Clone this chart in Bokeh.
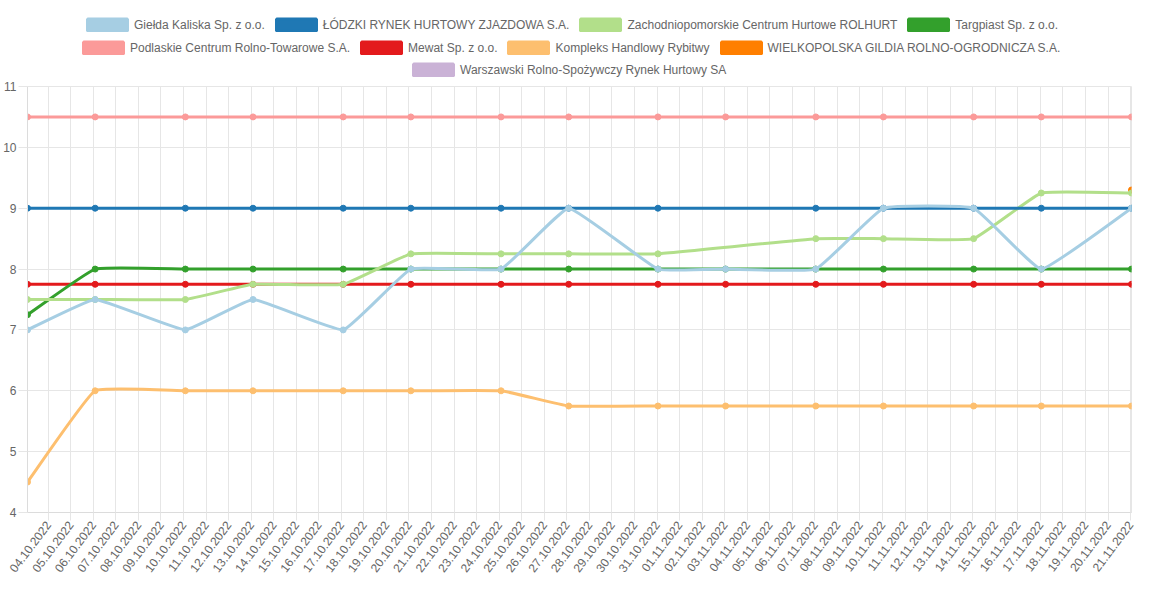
import math
import pandas as pd
from bokeh.plotting import figure
from bokeh.layouts import column
from bokeh.models import (Range1d, DaysTicker, DatetimeTickFormatter, FixedTicker,
                          Legend, LegendItem, ColumnDataSource)
from bokeh.embed import file_html
from bokeh.resources import INLINE

# ---------------- data ----------------
dates = ["2022-10-03", "2022-10-06", "2022-10-10", "2022-10-13", "2022-10-17",
         "2022-10-20", "2022-10-24", "2022-10-27", "2022-10-31", "2022-11-03",
         "2022-11-07", "2022-11-10", "2022-11-14", "2022-11-17", "2022-11-21"]

names = ["Giełda Kaliska Sp. z o.o.",
         "ŁÓDZKI RYNEK HURTOWY ZJAZDOWA S.A.",
         "Zachodniopomorskie Centrum Hurtowe ROLHURT",
         "Targpiast Sp. z o.o.",
         "Podlaskie Centrum Rolno-Towarowe S.A.",
         "Mewat Sp. z o.o.",
         "Kompleks Handlowy Rybitwy",
         "WIELKOPOLSKA GILDIA ROLNO-OGRODNICZA S.A.",
         "Warszawski Rolno-Spożywczy Rynek Hurtowy SA"]

colors = ["#a6cee3", "#1f78b4", "#b2df8a", "#33a02c", "#fb9a99",
          "#e31a1c", "#fdbf6f", "#ff7f00", "#cab2d6"]

kaliska = [7, 7.5, 7, 7.5, 7, 8, 8, 9, 8, 8, 8, 9, 9, 8, 9]
lodzki = [9, 9, 9, 9, 9, 9, 9, 9, 9, None, 9, 9, 9, 9, 9]
rolhurt = [7.5, 7.5, 7.5, 7.75, 7.75, 8.25, 8.25, 8.25, 8.25, None, 8.5, 8.5, 8.5, 9.25, 9.25]
targpiast = [7.25, 8, 8, 8, 8, 8, 8, 8, 8, 8, 8, 8, 8, 8, 8]
podlaskie = [10.5, 10.5, 10.5, 10.5, 10.5, 10.5, 10.5, 10.5, 10.5, 10.5, 10.5, 10.5, 10.5, 10.5, 10.5]
mewat = [7.75, 7.75, 7.75, 7.75, 7.75, 7.75, 7.75, 7.75, 7.75, 7.75, 7.75, 7.75, 7.75, 7.75, 7.75]
rybitwy = [4.5, 6, 6, 6, 6, 6, 6, 5.75, 5.75, 5.75, 5.75, 5.75, 5.75, 5.75, 5.75]
wielkopolska = [None, None, None, None, None, None, None, None, None, None, None, None, None, None, 9.3]
warszawski = [None] * 15

series = [kaliska, lodzki, rolhurt, targpiast, podlaskie, mewat, rybitwy, wielkopolska, warszawski]

y_min, y_max = 4, 11
y_ticks = [4, 5, 6, 7, 8, 9, 10, 11]

legend_rows = [[0, 1, 2, 3], [4, 5, 6, 7], [8]]

# ---------------- layout / style ----------------
FIG_W = 1145
LEG_H = 78
MAIN_H = 512
BORDER_L, BORDER_R = 27, 14
FRAME_W, FRAME_H = 1104, 426
TENSION = 0.1
FONT = "Liberation Sans"
TXT = "#666666"
GRID = "#e6e6e6"
# legend row positions (screen px, bottom-left of each legend row relative to the strip's frame)
LEGEND_POS = [(51, 42), (47, 19), (377, -3)]

# timestamps: UTC midnight shown in Warsaw local time
t_utc = pd.to_datetime(dates).tz_localize("UTC")
try:
    t_loc = t_utc.tz_convert("Europe/Warsaw").tz_localize(None)
except Exception:
    t_loc = t_utc.tz_localize(None) + pd.Timedelta(hours=2)
x_ms = (t_loc.asi8 / 1e6).astype(float)
x_start, x_end = x_ms[0], x_ms[-1]

p = figure(width=FIG_W, height=MAIN_H,
           x_axis_type="datetime",
           x_range=Range1d(x_start, x_end), y_range=Range1d(y_min, y_max),
           output_backend="svg", toolbar_location=None,
           min_border_left=BORDER_L, min_border_right=BORDER_R,
           min_border_top=8, min_border_bottom=78,
           background_fill_color="white", border_fill_color="white")
p.outline_line_color = GRID

sx = FRAME_W / (x_end - x_start)
sy = FRAME_H / (y_max - y_min)


def curve(xs, ys, t):
    """Chart.js style bezier control points (computed in pixel space)."""
    pts = [((x - x_start) * sx, y * sy) for x, y in zip(xs, ys)]
    n = len(pts)
    pc, nc = [], []
    for i in range(n):
        a = pts[max(i - 1, 0)]
        m = pts[i]
        b = pts[min(i + 1, n - 1)]
        d01 = math.hypot(m[0] - a[0], m[1] - a[1])
        d12 = math.hypot(b[0] - m[0], b[1] - m[1])
        s = d01 + d12
        s01 = d01 / s if s else 0.0
        s12 = d12 / s if s else 0.0
        fa, fb = t * s01, t * s12
        pc.append((m[0] - fa * (b[0] - a[0]), m[1] - fa * (b[1] - a[1])))
        nc.append((m[0] + fb * (b[0] - a[0]), m[1] + fb * (b[1] - a[1])))

    def back(q):
        return q[0] / sx + x_start, q[1] / sy

    d = dict(x0=[], y0=[], x1=[], y1=[], cx0=[], cy0=[], cx1=[], cy1=[])
    for i in range(n - 1):
        p0, c0, c1, p1 = back(pts[i]), back(nc[i]), back(pc[i + 1]), back(pts[i + 1])
        d["x0"].append(p0[0]); d["y0"].append(p0[1])
        d["cx0"].append(c0[0]); d["cy0"].append(c0[1])
        d["cx1"].append(c1[0]); d["cy1"].append(c1[1])
        d["x1"].append(p1[0]); d["y1"].append(p1[1])
    return d


# Chart.js draws the last dataset first
for idx in reversed(range(len(series))):
    vals = series[idx]
    c = colors[idx]
    xs = [x for x, v in zip(x_ms, vals) if v is not None]
    ys = [v for v in vals if v is not None]
    if len(xs) > 1:
        src = ColumnDataSource(curve(xs, ys, TENSION))
        p.bezier(x0="x0", y0="y0", x1="x1", y1="y1", cx0="cx0", cy0="cy0",
                 cx1="cx1", cy1="cy1", source=src, line_color=c, line_width=3,
                 line_cap="round")
    if xs:
        p.scatter(xs, ys, size=6, fill_color=c, line_color=c, line_width=1)

# axes
xticker = DaysTicker(days=list(range(1, 32)))
p.xaxis.ticker = xticker
p.xgrid.ticker = xticker
p.xaxis.formatter = DatetimeTickFormatter(days="%d.%m.%Y", months="%d.%m.%Y",
                                          hours="%d.%m.%Y")
p.xaxis.major_label_orientation = math.radians(53)
p.yaxis.ticker = FixedTicker(ticks=y_ticks)

for ax in (p.xaxis, p.yaxis):
    ax.axis_line_color = "#dcdcdc"
    ax.major_tick_line_color = GRID
    ax.major_tick_in = 0
    ax.minor_tick_line_color = None
    ax.major_label_text_font = FONT
    ax.major_label_text_font_size = "12px"
    ax.major_label_text_color = TXT
p.xaxis.major_tick_out = 8
p.xaxis.major_label_standoff = 2
p.yaxis.major_tick_out = 9
p.yaxis.major_label_standoff = 2

p.xgrid.grid_line_color = GRID
p.ygrid.grid_line_color = GRID

# ---------------- legend (separate strip above the plot) ----------------
lf = figure(width=FIG_W, height=LEG_H, x_range=Range1d(0, 1), y_range=Range1d(0, 1),
            x_axis_location=None, y_axis_location=None,
            output_backend="svg", toolbar_location=None,
            min_border_left=BORDER_L, min_border_right=BORDER_R,
            min_border_top=0, min_border_bottom=0,
            background_fill_color="white", border_fill_color="white")
lf.outline_line_color = None
lf.grid.visible = False

nan = float("nan")
proxies = []
for c in colors:
    r = lf.quad(left=[nan], right=[nan], top=[nan], bottom=[nan],
                fill_color=c, line_color=c, line_width=3)
    proxies.append(r)

for row, loc in zip(legend_rows, LEGEND_POS):
    leg = Legend(items=[LegendItem(label=names[i], renderers=[proxies[i]]) for i in row],
                 orientation="horizontal", location=loc,
                 glyph_width=50, glyph_height=15, label_height=15,
                 label_standoff=2, spacing=6, padding=4, margin=0,
                 border_line_alpha=0, background_fill_alpha=0,
                 label_text_font=FONT, label_text_font_size="12px",
                 label_text_color=TXT)
    lf.add_layout(leg, "center")

layout = column(lf, p, spacing=0)
open("out.html", "w").write(file_html(layout, INLINE))
